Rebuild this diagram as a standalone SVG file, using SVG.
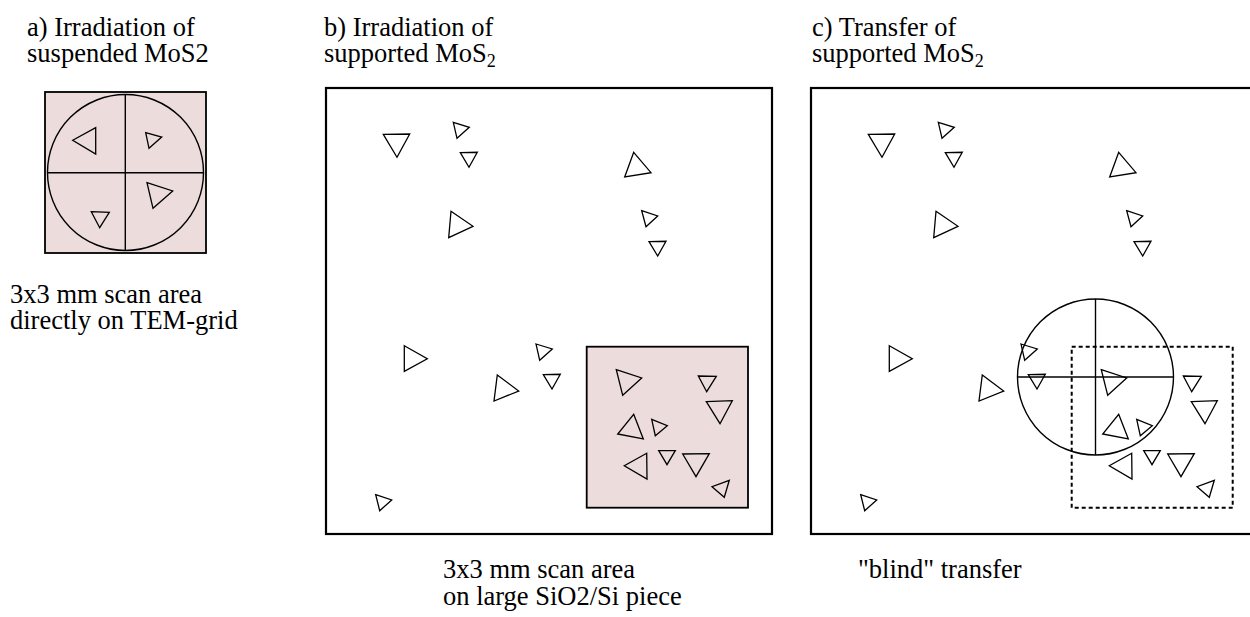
<svg xmlns="http://www.w3.org/2000/svg" xmlns:xlink="http://www.w3.org/1999/xlink" width="1250" height="617" viewBox="0 0 1250 617">
<style>
text{font-family:"Liberation Serif","Times New Roman",serif;font-size:26.5px;fill:#000}
.sub{font-size:18px}
.tri{fill:none;stroke:#000;stroke-width:1.3;stroke-linejoin:miter}
.frame{fill:none;stroke:#000;stroke-width:2.2}
.pink{fill:#ecdcdc;stroke:#000;stroke-width:1.8}
.thin{fill:none;stroke:#000;stroke-width:1.4}
.dash{fill:none;stroke:#000;stroke-width:2;stroke-dasharray:4 3}
</style>
<defs>
<g id="flakes">
<polygon class="tri" points="383.3,134.3 409.7,134 397,157.3"/>
<polygon class="tri" points="453.3,122.3 469.3,127.3 457,138.3"/>
<polygon class="tri" points="460.3,152.7 477.3,152.3 469,167.3"/>
<polygon class="tri" points="633.7,152.3 651,172.7 624.7,177"/>
<polygon class="tri" points="451,211.3 473,226.3 448.7,237.7"/>
<polygon class="tri" points="641.7,210.7 657.7,216 646,226.7"/>
<polygon class="tri" points="649,241.7 666,241.3 657.7,256"/>
<polygon class="tri" points="404.3,345.7 427.3,358.7 404.3,371.3"/>
<polygon class="tri" points="536,344 552.3,349 539.7,360.3"/>
<polygon class="tri" points="497.3,375 518.7,391 494,401"/>
<polygon class="tri" points="543.3,374.7 560.3,374.3 552,389"/>
<polygon class="tri" points="375.7,494.7 391.7,500 379.7,510.7"/>
<polygon class="tri" points="616.3,369.7 641.7,378 622.7,395.3"/>
<polygon class="tri" points="698.3,376 716.3,376.3 706.7,391.7"/>
<polygon class="tri" points="706.3,401.7 732.3,400.7 720,423.7"/>
<polygon class="tri" points="633.7,414.3 643.3,439 617.7,434"/>
<polygon class="tri" points="651.7,419.3 667.3,425.7 655.3,435.7"/>
<polygon class="tri" points="658.7,450.7 675.3,450.7 667,464.7"/>
<polygon class="tri" points="682.7,454 709.3,453.7 696,476.7"/>
<polygon class="tri" points="646.7,453.3 647,479 624.3,465.7"/>
<polygon class="tri" points="729.3,480.3 724.3,497.3 712,486.7"/>
</g>
</defs>

<g id="panel-a">
<text x="27" y="36">a) Irradiation of</text>
<text x="27" y="62">suspended MoS2</text>
<rect class="pink" x="45" y="92" width="161" height="161"/>
<circle class="thin" cx="125.5" cy="172.5" r="78"/>
<line class="thin" x1="47.5" y1="172.7" x2="203.5" y2="172.7"/>
<line class="thin" x1="125.3" y1="94.5" x2="125.3" y2="250.5"/>
<polygon class="tri" points="72.7,140.3 95.7,127.7 95.7,154"/>
<polygon class="tri" points="145.7,132.7 161.7,137 149,148.3"/>
<polygon class="tri" points="147,182.7 172.7,191 153,208.3"/>
<polygon class="tri" points="91.3,211.7 109.3,212.3 99.7,227.7"/>
<text x="10" y="303">3x3 mm scan area</text>
<text x="10" y="329">directly on TEM-grid</text>
</g>

<g id="panel-b">
<text x="324" y="36">b) Irradiation of</text>
<text x="324" y="62">supported MoS<tspan class="sub" dy="5">2</tspan></text>
<rect class="frame" x="326" y="88" width="446" height="446"/>
<rect class="pink" x="586.7" y="346.7" width="161.3" height="161"/>
<use xlink:href="#flakes" href="#flakes"/>
<text x="443" y="578">3x3 mm scan area</text>
<text x="443" y="605">on large SiO2/Si piece</text>
</g>

<g id="panel-c">
<text x="812" y="36">c) Transfer of</text>
<text x="812" y="62">supported MoS<tspan class="sub" dy="5">2</tspan></text>
<rect class="frame" x="811" y="88" width="446" height="446"/>
<use xlink:href="#flakes" href="#flakes" transform="translate(485,0)"/>
<rect class="dash" x="1071.7" y="346.7" width="161" height="161"/>
<circle class="thin" cx="1095.5" cy="377" r="78"/>
<line class="thin" x1="1017.5" y1="377" x2="1173.5" y2="377"/>
<line class="thin" x1="1095.5" y1="299" x2="1095.5" y2="455"/>
<text x="858" y="578">"blind" transfer</text>
</g>
</svg>
